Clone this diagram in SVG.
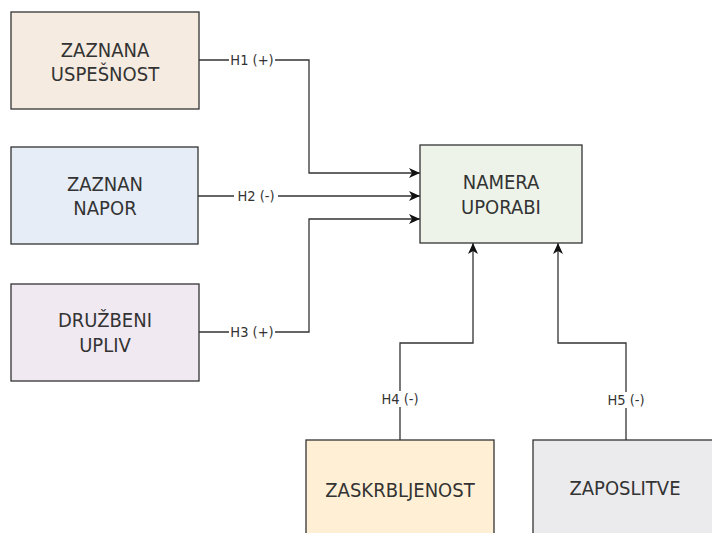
<svg xmlns="http://www.w3.org/2000/svg" width="712" height="533" viewBox="0 0 712 533">
<style>
.box{stroke:#333;stroke-width:1.3}
.t{font-family:"DejaVu Sans Condensed","Liberation Sans Narrow","Liberation Sans",sans-serif;font-size:20px;fill:#333;text-anchor:middle}
.l{font-family:"DejaVu Sans Condensed","Liberation Sans Narrow","Liberation Sans",sans-serif;font-size:14.5px;fill:#333;text-anchor:middle}
.c{fill:none;stroke:#333;stroke-width:1.3}
.bg{fill:#fff}
</style>
<defs>
<marker id="arr" markerUnits="userSpaceOnUse" markerWidth="12" markerHeight="11" refX="11" refY="5" orient="auto">
<path d="M0,0 L11,5 L0,10 L3,5 z" fill="#111"/>
</marker>
</defs>
<rect width="712" height="533" fill="#fff"/>
<g id="connectors">
<path class="c" d="M199,60 H309 V173 H420" marker-end="url(#arr)"/>
<path class="c" d="M198,196 H420" marker-end="url(#arr)"/>
<path class="c" d="M199,332 H309 V219 H420" marker-end="url(#arr)"/>
<path class="c" d="M400,440 V343 H473 V243" marker-end="url(#arr)"/>
<path class="c" d="M626,440 V343 H558 V243" marker-end="url(#arr)"/>
<rect class="bg" x="229" y="52" width="46" height="16"/>
<text class="l" x="252" y="65">H1 (+)</text>
<rect class="bg" x="234" y="188" width="44" height="16"/>
<text class="l" x="256" y="201">H2 (-)</text>
<rect class="bg" x="229" y="324" width="46" height="16"/>
<text class="l" x="252" y="337">H3 (+)</text>
<rect class="bg" x="378" y="391" width="44" height="16"/>
<text class="l" x="400" y="404">H4 (-)</text>
<rect class="bg" x="604" y="392" width="44" height="16"/>
<text class="l" x="626" y="405">H5 (-)</text>
</g>
<g id="n1">
<rect class="box" x="11" y="12" width="188" height="97" fill="#f5ebe0"/>
<text class="t" x="105" y="57">ZAZNANA</text>
<text class="t" x="105" y="81">USPEŠNOST</text>
</g>
<g id="n2">
<rect class="box" x="11" y="147" width="187" height="97" fill="#e6edf7"/>
<text class="t" x="105" y="191">ZAZNAN</text>
<text class="t" x="105" y="215">NAPOR</text>
</g>
<g id="n3">
<rect class="box" x="11" y="284" width="188" height="97" fill="#f1e9f2"/>
<text class="t" x="105" y="327">DRUŽBENI</text>
<text class="t" x="105" y="352">UPLIV</text>
</g>
<g id="n4">
<rect class="box" x="420" y="145" width="162" height="98" fill="#eef3ea"/>
<text class="t" x="501" y="189">NAMERA</text>
<text class="t" x="501" y="214">UPORABI</text>
</g>
<g id="n5">
<rect class="box" x="306" y="440" width="188" height="98" fill="#fff0d5"/>
<text class="t" x="400" y="497">ZASKRBLJENOST</text>
</g>
<g id="n6">
<rect class="box" x="533" y="440" width="188" height="98" fill="#ebebee"/>
<text class="t" x="625" y="495">ZAPOSLITVE</text>
</g>
</svg>
